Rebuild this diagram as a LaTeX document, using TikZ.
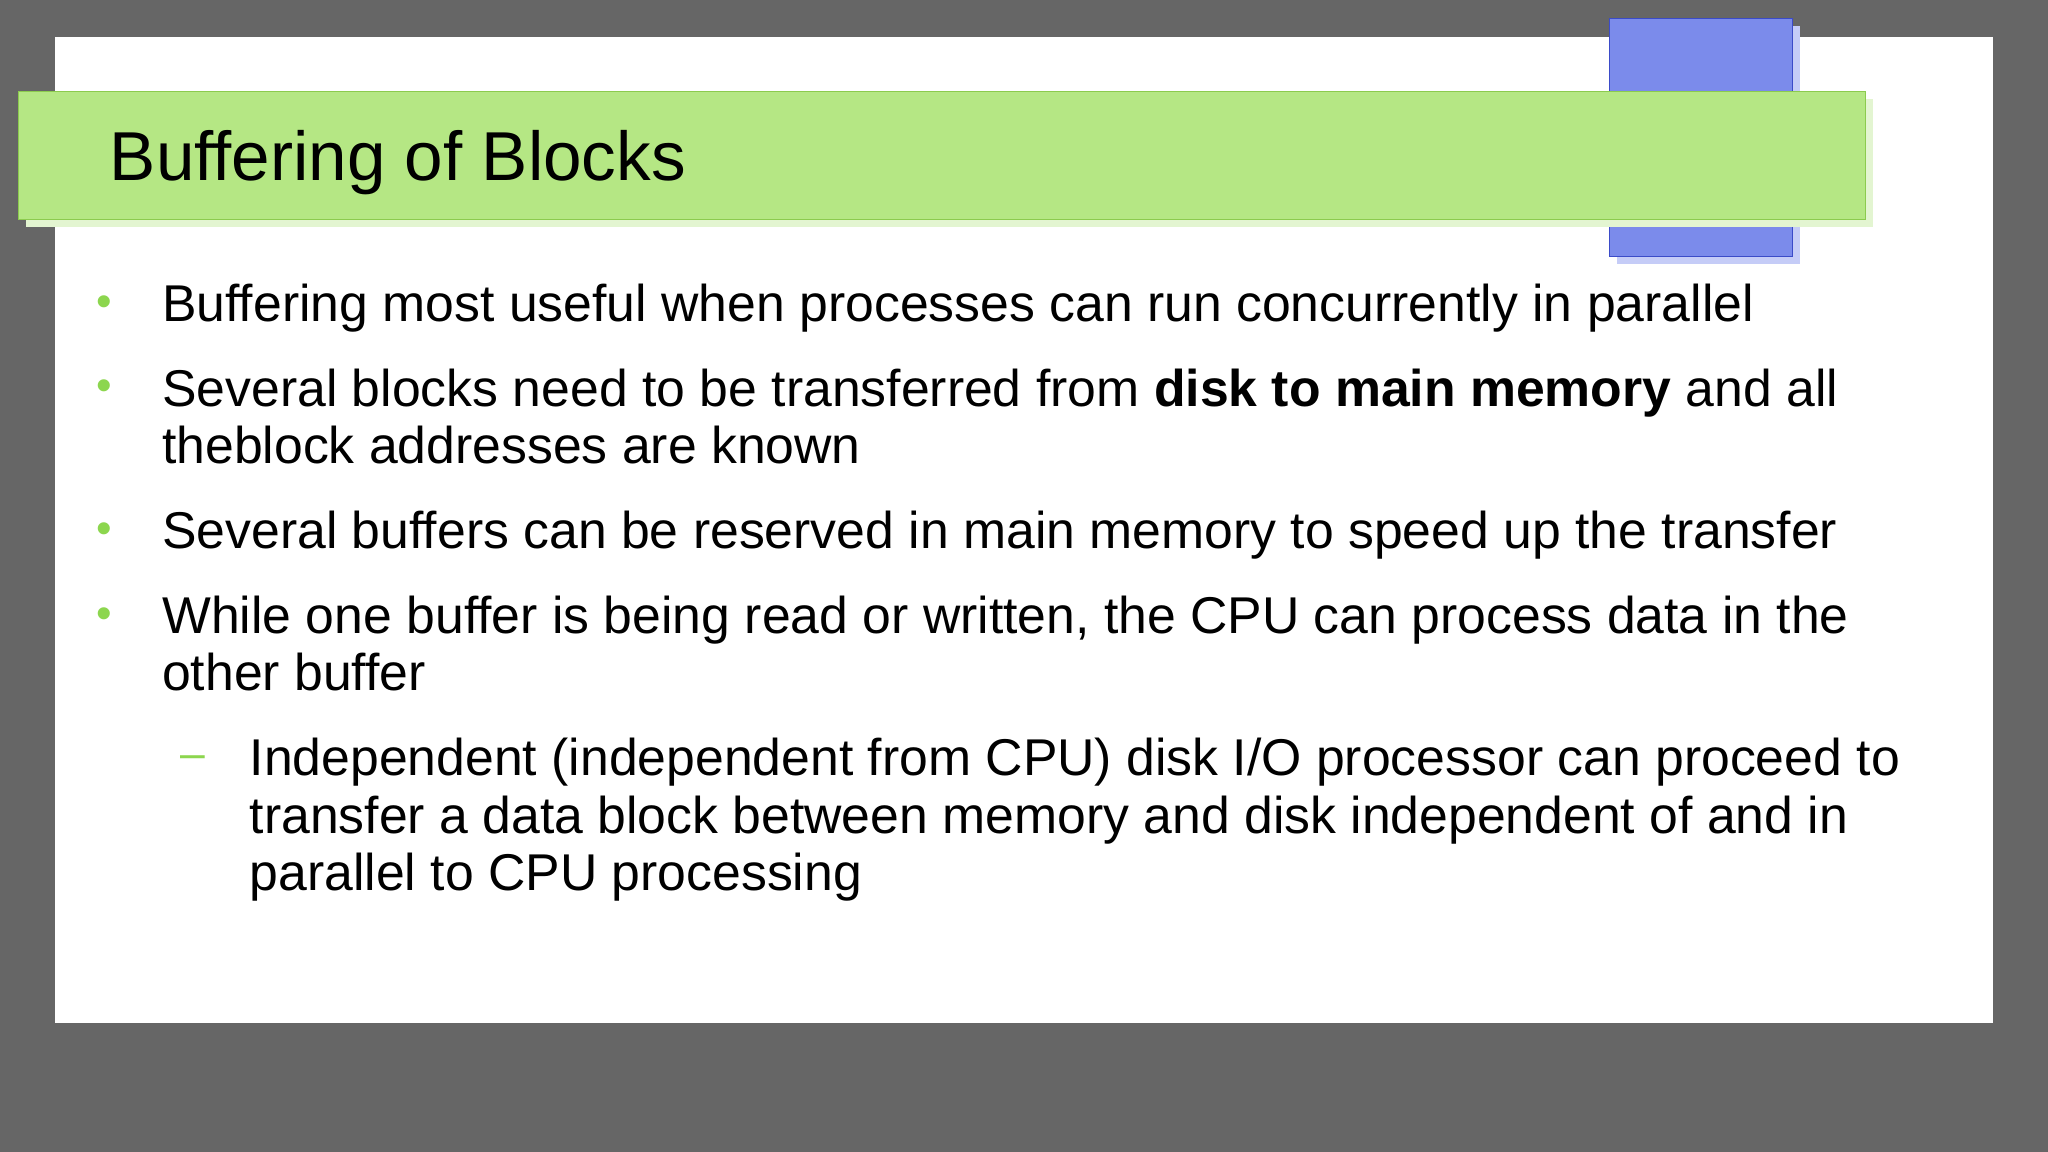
\documentclass[tikz,border=0pt]{standalone}
\usepackage{fontspec}
\setmainfont{Liberation Sans}
\definecolor{bg}{HTML}{666666}
\definecolor{bar}{HTML}{B5E784}
\definecolor{barE}{HTML}{8CCB4E}
\definecolor{barS}{HTML}{E3F5D1}
\definecolor{blu}{HTML}{7B8BEB}
\definecolor{bluE}{HTML}{3B4BC8}
\definecolor{bluS}{HTML}{C5CCF7}
\definecolor{bul}{HTML}{8CD64E}
\begin{document}
\begin{tikzpicture}[x=1pt,y=-1pt,
  body/.style={anchor=base west,inner sep=0pt,font=\fontsize{39.6}{44}\selectfont,text=black},
  sub/.style={body},
  dot/.style={anchor=base,inner sep=0pt,text=bul,font=\fontsize{34}{34}\selectfont}]
\fill[bg] (0,0) rectangle (1568,882);
\useasboundingbox (0,0) rectangle (1568,882);
\fill[white] (42,28) rectangle (1526,783);
\fill[bluS] (1238,20) rectangle (1378,202);
\draw[bluE,fill=blu] (1232,14) rectangle (1372,196);
\fill[barS] (20,76) rectangle (1434,174);
\draw[barE,fill=bar] (14,70) rectangle (1428,168);
\node[anchor=base west,inner sep=0pt,font=\fontsize{53}{53}\selectfont] (title) at (84,138) {Buffering of Blocks};
\node[dot] (b1) at (80,242) {•};
\node[body] (l1) at (124,246) {Buffering most useful when processes can run concurrently in parallel};
\node[dot] (b2) at (80,307) {•};
\node[body] (l2) at (124,311) {Several blocks need to be transferred from \textbf{disk to main memory} and all};
\node[body] (l2b) at (124,355) {theblock addresses are known};
\node[dot] (b3) at (80,416) {•};
\node[body] (l3) at (124,420) {Several buffers can be reserved in main memory to speed up the transfer};
\node[dot] (b4) at (80,481) {•};
\node[body] (l4) at (124,485) {While one buffer is being read or written, the CPU can process data in the};
\node[body] (l4b) at (124,529) {other buffer};
\node[dot] (d1) at (148,588) {–};
\node[sub] (s1) at (191,594) {Independent (independent from CPU) disk I/O processor can proceed to};
\node[sub] (s2) at (191,638) {transfer a data block between memory and disk independent of and in};
\node[sub] (s3) at (191,682) {parallel to CPU processing};
\end{tikzpicture}
\end{document}
